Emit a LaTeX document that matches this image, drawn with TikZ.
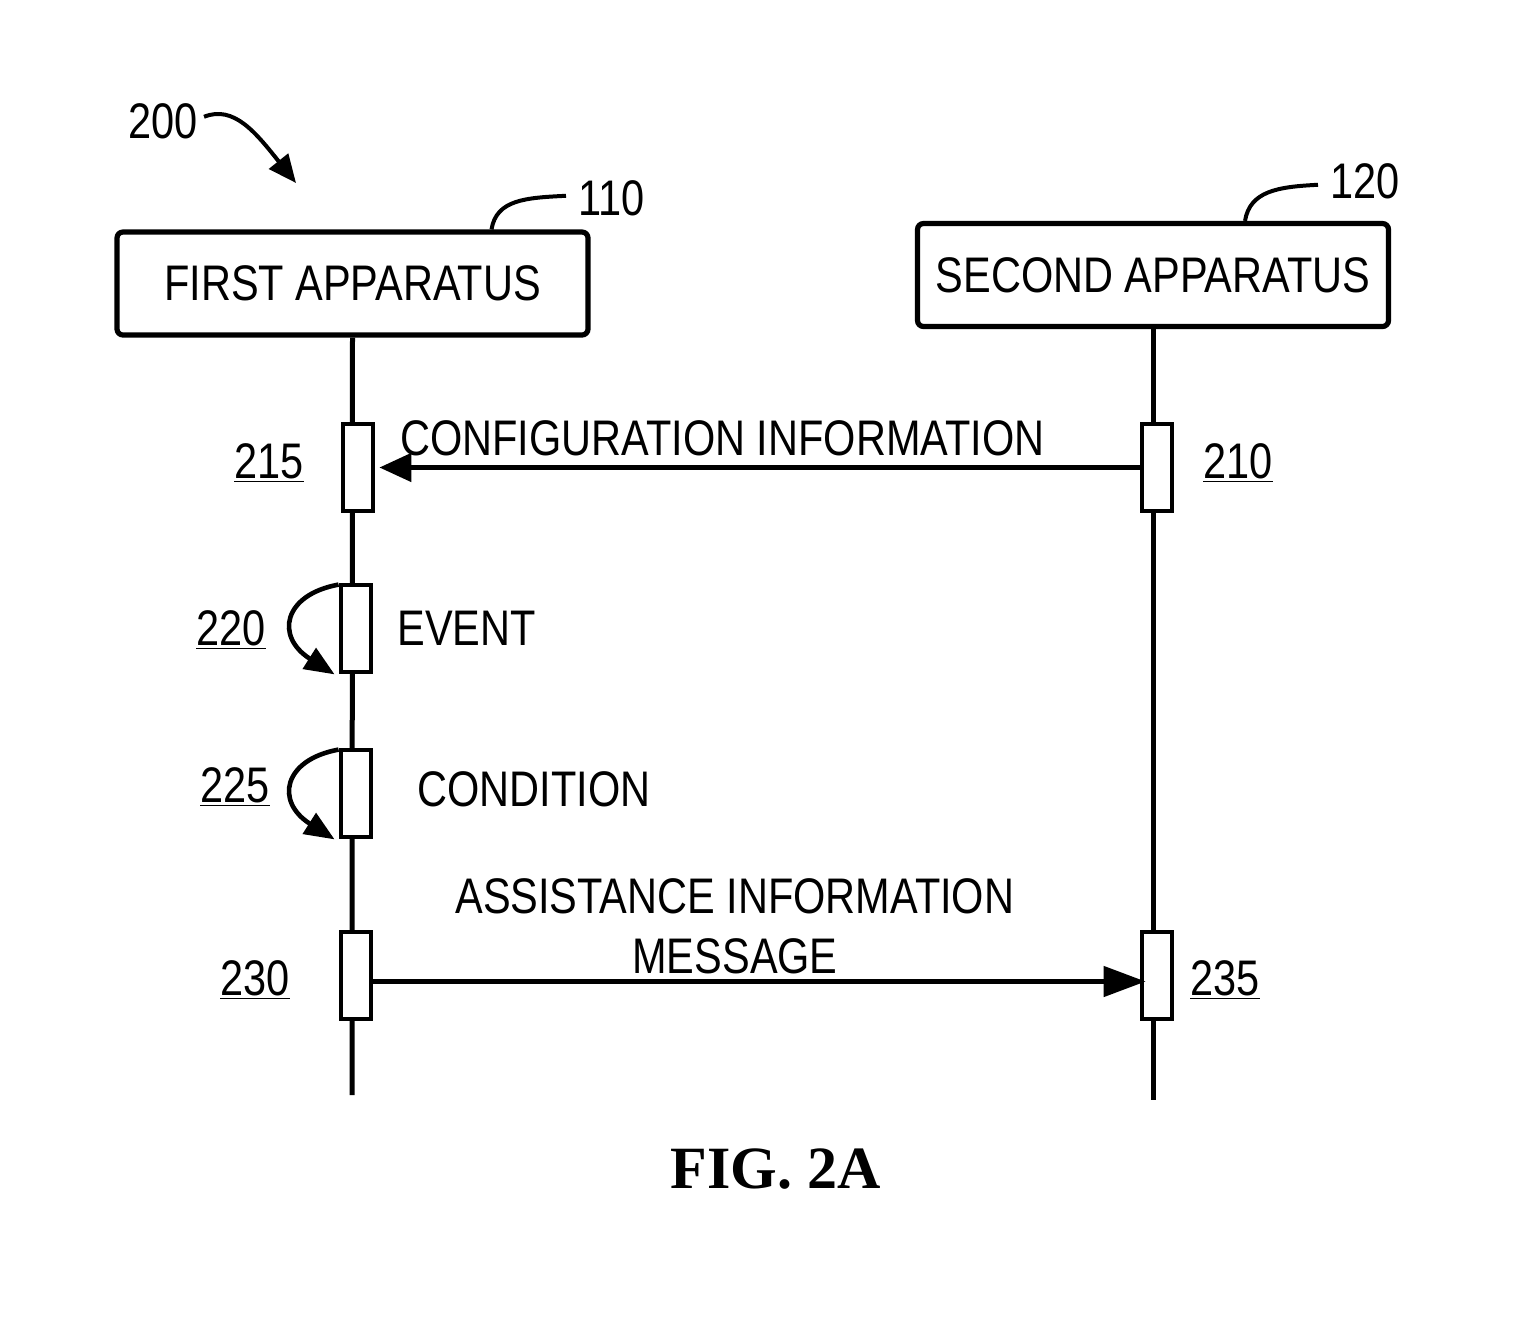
\documentclass[tikz,border=0pt]{standalone}
\usepackage{fontspec}
\setmainfont{Liberation Sans}[FakeStretch=0.83]
\newfontfamily\capfont{Liberation Serif}
\usetikzlibrary{arrows.meta,positioning}
\newcommand\bigtext{\fontsize{25pt}{30pt}\selectfont}
\tikzset{
  appbox/.style={rectangle, draw, line width=2.6pt, rounded corners=3pt,
                 minimum width=235.5pt, minimum height=51.5pt,
                 align=center, font=\bigtext},
  actbox/.style={rectangle, draw, line width=2.4pt, fill=white,
                 minimum width=15pt, minimum height=43.5pt, inner sep=0pt},
  msg/.style={-{Triangle[length=16pt,width=14pt]}, line width=2.4pt},
  msgbig/.style={-{Triangle[length=21pt,width=15pt]}, line width=2.4pt},
  selfmsg/.style={-{Triangle[length=15pt,width=12pt]}, line width=2.3pt},
  life/.style={line width=2.5pt},
  lead/.style={line width=2pt},
  lbl/.style={anchor=base west, inner sep=0pt, font=\bigtext},
}

\begin{document}
\begin{tikzpicture}[x=0.5pt, y=-0.5pt]
  \useasboundingbox (0,0) rectangle (1528,1328);

  % apparatus boxes
  \node[appbox] (first)  at (352.5,283.5) {FIRST APPARATUS};
  \node[appbox] (second) at (1153,275)    {SECOND APPARATUS};

  % lifelines
  \coordinate (endA) at (352,1095);
  \coordinate (endB) at (1153,1100);
  \draw[life] (first.south) -- (endA);
  \draw[life] (second.south) -- (endB);

  % activation boxes
  \node[actbox] (a215) at (358,467.5) {};
  \node[actbox] (a210) at (1157,467.5) {};
  \node[actbox] (a220) at (356,628.5) {};
  \node[actbox] (a225) at (356,793.5) {};
  \node[actbox] (a230) at (356,975.5) {};
  \node[actbox] (a235) at (1157,975.5) {};

  % messages
  \draw[msg] (a210.west) -- ([xshift=2pt]a215.east);
  \draw[msgbig] ([yshift=-3pt]a230.east) -- ([yshift=-3pt,xshift=3pt]a235.west);
  \draw[selfmsg] ([yshift=-1pt]a220.north west) .. controls +(-55,10) and +(-60,-38) .. ([xshift=-2pt]a220.south west);
  \draw[selfmsg] ([yshift=-1pt]a225.north west) .. controls +(-55,10) and +(-60,-38) .. ([xshift=-2pt]a225.south west);

  % texts
  \node[lbl] (tconf) at (400,455) {CONFIGURATION INFORMATION};
  \node[lbl] (tevent) at (397,645) {EVENT};
  \node[lbl] (tcond) at (417,806) {CONDITION};
  \node[lbl] (tassist) at (455,913) {ASSISTANCE INFORMATION};
  \node[lbl] (tmsg) at (632,973) {MESSAGE};

  % reference numerals
  \node[lbl] (l215) at (234,478) {\underline{215}};
  \node[lbl] (l210) at (1203,478) {\underline{210}};
  \node[lbl] (l220) at (196,645) {\underline{220}};
  \node[lbl] (l225) at (200,802) {\underline{225}};
  \node[lbl] (l230) at (220,995) {\underline{230}};
  \node[lbl] (l235) at (1190,995) {\underline{235}};
  \node[lbl] (l200) at (128,138) {200};
  \node[lbl] (l110) at (578,215) {110};
  \node[lbl] (l120) at (1330,198) {120};

  \coordinate (figpt) at (296,183);
  \draw[-{Triangle[length=14pt,width=12pt]}, line width=2pt]
    ([xshift=3pt,yshift=2pt]l200.east) .. controls +(30,-12) and +(-40,-50) .. (figpt);
  \draw[lead] ([xshift=69.5pt]first.north) .. controls +(5,-30) and +(-40,2) .. ([xshift=-6pt,yshift=1pt]l110.west);
  \draw[lead] ([xshift=46pt]second.north) .. controls +(5,-30) and +(-40,2) .. ([xshift=-6pt,yshift=-2pt]l120.west);

  \node[anchor=base west, inner sep=0pt, font=\capfont\bfseries\fontsize{30pt}{36pt}\selectfont]
    (cap) at (670,1188) {FIG. 2A};
\end{tikzpicture}
\end{document}
